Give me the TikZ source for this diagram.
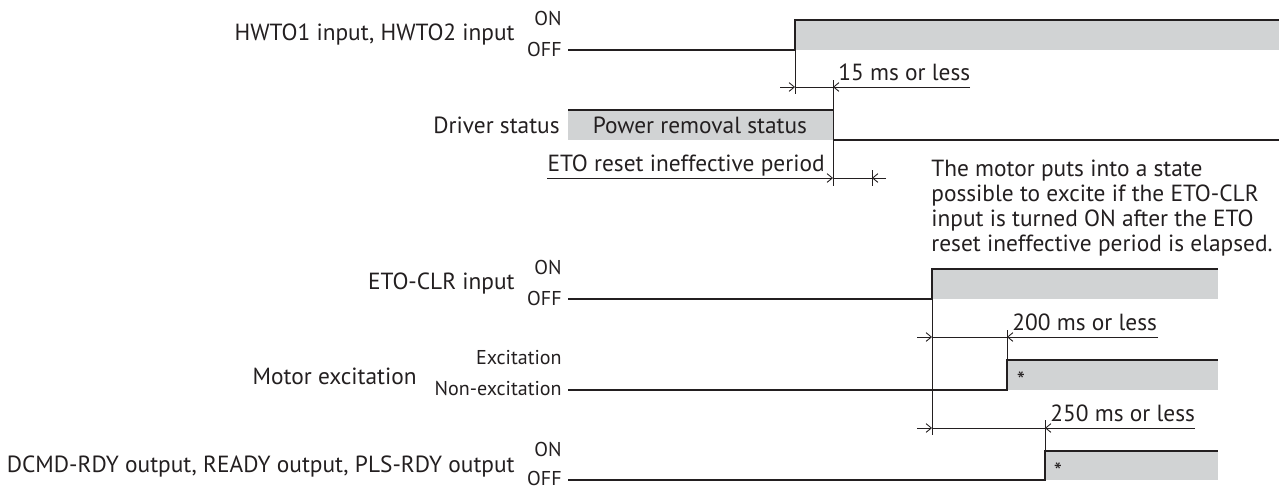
\documentclass[tikz,border=0pt]{standalone}
\usepackage{fontspec}
\setmainfont{PT Sans}
\usepackage{tikz}
\usetikzlibrary{arrows.meta}
\definecolor{lvlgray}{RGB}{209,211,212}
\definecolor{ink}{RGB}{35,31,32}

\begin{document}
\begin{tikzpicture}[x=0.02cm, y=-0.02cm,
  every node/.style={font=\fontsize{13.3}{14.2}\selectfont, text=ink, inner sep=0pt},
  level/.style={font=\fontsize{11.4}{12}\selectfont, anchor=east},
  sig/.style={draw=ink, line width=0.7pt},
  edge/.style={draw=ink, line width=0.5pt},
  dim/.style={draw=ink, line width=0.5pt, -{Straight Barb[length=3pt,width=5pt]}}]
\useasboundingbox (0,0) rectangle (1279,488);

% HWTO1 / HWTO2 input
\node[anchor=east] (hwto) at (515,35) {HWTO1 input, HWTO2 input};
\node[level] (hwtoon) at (562,18) {ON};
\node[level] (hwtooff) at (562,49) {OFF};
\fill[lvlgray] (795,20) rectangle (1279,50);
\draw[sig] (568,50) -- (795,50) -- (795,20) -- (1279,20);
\draw[edge] (795,50) -- (795,94);

% 15 ms or less
\draw[dim] (780,87) -- (795,87);
\draw[edge] (795,87) -- (833,87);
\draw[dim] (970,87) -- (833,87);
\node[anchor=base west] (ms15) at (838,80) {15 ms or less};

% Driver status
\node[anchor=east] (drv) at (560,125) {Driver status};
\fill[lvlgray] (568,110) rectangle (833,140);
\node (pwr) at (700,125) {Power removal status};
\draw[sig] (568,110) -- (833,110);
\draw[sig] (833,140) -- (1279,140);
\draw[edge] (833,80) -- (833,186);

% ETO reset ineffective period
\node[anchor=base east] (etoper) at (825,171) {ETO reset ineffective period};
\draw[dim] (547,178) -- (833,178);
\draw[edge] (833,178) -- (872,178);
\draw[dim] (886,178) -- (872,178);
\draw[edge] (872,170) -- (872,186);

% Note
\node[anchor=north west, align=left] (note) at (931,160)
  {The motor puts into a state\\possible to excite if the ETO-CLR\\input is turned ON after the ETO\\reset ineffective period is elapsed.};

% ETO-CLR input
\node[anchor=east] (clr) at (515,284) {ETO-CLR input};
\node[level] (clron) at (562,267) {ON};
\node[level] (clroff) at (562,298) {OFF};
\fill[lvlgray] (932,269) rectangle (1218,299);
\draw[sig] (568,299) -- (932,299) -- (932,269) -- (1218,269);
\draw[edge] (932,299) -- (932,435);

% 200 ms or less
\draw[dim] (917,337) -- (932,337);
\draw[edge] (932,337) -- (1007,337);
\draw[dim] (1158,337) -- (1007,337);
\node[anchor=base west] (ms200) at (1012,330) {200 ms or less};

% Motor excitation
\node[anchor=east] (mot) at (417,376) {Motor excitation};
\node[level] (moton) at (562,358) {Excitation};
\node[level] (motoff) at (562,388) {Non-excitation};
\fill[lvlgray] (1007,360) rectangle (1218,390);
\draw[sig] (568,390) -- (1007,390) -- (1007,360) -- (1218,360);
\draw[edge] (1007,330) -- (1007,360);
\node (motast) at (1021,380) {*};

% 250 ms or less
\draw[dim] (917,428) -- (932,428);
\draw[edge] (932,428) -- (1045,428);
\draw[dim] (1195,428) -- (1045,428);
\node[anchor=base west] (ms250) at (1050,421) {250 ms or less};

% DCMD-RDY / READY / PLS-RDY output
\node[anchor=east] (rdy) at (515,467) {DCMD-RDY output, READY output, PLS-RDY output};
\node[level] (rdyon) at (562,449) {ON};
\node[level] (rdyoff) at (562,478) {OFF};
\fill[lvlgray] (1045,451) rectangle (1218,480);
\draw[sig] (568,480) -- (1045,480) -- (1045,451) -- (1218,451);
\draw[edge] (1045,420) -- (1045,451);
\node (rdyast) at (1058,471) {*};

\end{tikzpicture}
\end{document}
